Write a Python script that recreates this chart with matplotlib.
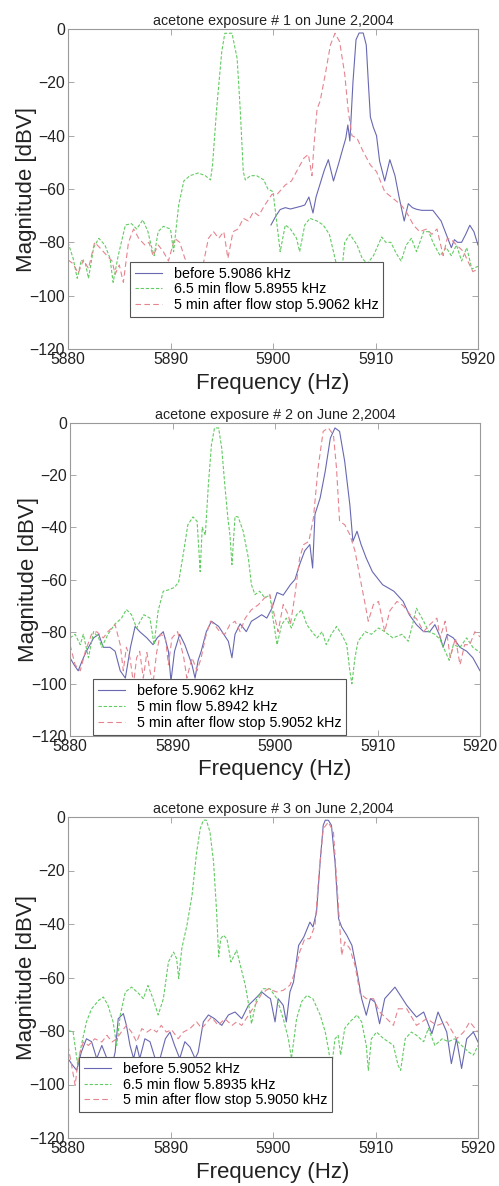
import matplotlib
matplotlib.use("Agg")
import matplotlib.pyplot as plt
from matplotlib.patches import Rectangle

plt.rcParams['font.family'] = ['Liberation Sans', 'DejaVu Sans']

# ---- exposure 1 ----
p1_before_f = [5899.8, 5900.3, 5900.7, 5901.2, 5901.7, 5902.2, 5902.7, 5903.1, 5903.5, 5903.9,
               5904.2, 5904.6, 5905.0, 5905.4, 5905.9, 5906.4, 5906.8, 5907.1, 5907.3, 5907.5,
               5907.8, 5908.1, 5908.4, 5908.8, 5909.1, 5909.3, 5909.5, 5909.8, 5910.1, 5910.4,
               5910.9, 5911.4, 5911.9, 5912.3, 5912.8, 5913.2, 5913.6, 5914.0, 5914.5, 5915.0,
               5915.6, 5916.0, 5916.4, 5916.9, 5917.4, 5917.7, 5918.0, 5918.4, 5918.8, 5919.2,
               5919.6, 5920.0]
p1_before_db = [-73.5, -70, -67.7, -67, -67.5, -67, -66.5, -66, -63, -69,
                -63, -58, -53, -49, -57, -50.5, -45, -41, -36, -42,
                -20, -4, -1.5, -1.5, -6, -20, -33, -37, -40, -49.5,
                -57, -49, -55, -63, -72, -65.5, -67, -67.6, -68, -68,
                -68, -70, -72, -77, -82, -79, -80, -80, -77, -73.6,
                -76, -81]

p1_flow_f = [5880, 5880.5, 5880.9, 5881.3, 5881.7, 5882.0, 5882.5, 5883.0, 5883.6, 5884.1,
             5884.4, 5884.9, 5885.6, 5886.2, 5886.7, 5887.3, 5887.8, 5888.1, 5888.4, 5888.8,
             5889.3, 5890.0, 5890.3, 5890.8, 5891.3, 5891.9, 5892.7, 5893.4, 5893.9, 5894.1,
             5894.5, 5895.0, 5895.3, 5896.0, 5896.5, 5896.8, 5897.1, 5897.3, 5897.8, 5898.4,
             5899.1, 5899.5, 5900.0, 5900.35, 5900.7, 5901.2, 5901.7, 5902.3, 5902.6, 5903.1,
             5903.6, 5904.3, 5904.9, 5905.5, 5905.9, 5906.2, 5906.6, 5907.0, 5907.5, 5908.2,
             5908.7, 5909.2, 5909.8, 5910.6, 5911.0, 5911.5, 5912.0, 5912.5, 5913.0, 5913.5,
             5914.0, 5914.7, 5915.2, 5915.6, 5916.3, 5916.9, 5917.4, 5917.9, 5918.4, 5918.9,
             5919.4, 5920.0]
p1_flow_db = [-80, -86, -93.5, -86.6, -88, -93.5, -82, -78.5, -81, -86,
              -95, -85, -73.5, -73, -75, -71.6, -76, -81, -85, -76,
              -74, -75, -83.5, -66, -57, -55, -54, -55, -56.6, -51,
              -30, -8.5, -1.6, -1.6, -11, -30, -53.5, -56.6, -55, -55,
              -56.6, -60, -61, -72, -83.5, -73.5, -75, -78.5, -83.5, -73.5,
              -71, -72, -73.5, -77, -83.5, -88.5, -95, -80, -77, -81,
              -86, -88, -85, -78, -80, -80, -84, -87, -81, -78.5,
              -83.5, -76, -76, -80, -85, -82, -85, -81, -87, -82,
              -90, -89]

p1_after_f = [5880, 5880.5, 5881.0, 5881.5, 5882.0, 5882.6, 5883.1, 5883.8, 5884.3, 5884.6,
              5885.0, 5885.4, 5885.9, 5886.4, 5886.9, 5887.5, 5887.9, 5888.3, 5888.8, 5889.3,
              5889.8, 5890.4, 5890.9, 5891.4, 5892.0, 5892.6, 5893.2, 5893.7, 5894.2, 5894.7,
              5895.2, 5895.6, 5896.1, 5896.6, 5897.1, 5897.6, 5898.1, 5898.6, 5899.2, 5899.9,
              5900.4, 5901.2, 5901.8, 5902.5, 5903.0, 5903.45, 5903.8, 5904.0, 5904.3, 5904.6,
              5905.1, 5905.6, 5906.05, 5906.5, 5907.0, 5907.35, 5907.7, 5908.2, 5908.8, 5909.5,
              5910.1, 5910.9, 5911.7, 5912.5, 5913.0, 5913.7, 5914.3, 5915.0, 5915.5, 5916.0,
              5916.6, 5917.0, 5917.4, 5917.9, 5918.6, 5919.0, 5919.5, 5920.0]
p1_after_db = [-86.6, -88, -91.6, -86.6, -89.8, -80, -82, -85, -87, -92,
               -88.5, -95, -80, -75, -78.5, -81, -80, -85, -81, -83.5,
               -87, -78.5, -80, -86, -90, -92, -88, -78.5, -76, -78.5,
               -76, -86, -76, -75, -71, -72, -68.5, -70, -66, -62,
               -62, -58.5, -57, -52, -48.5, -47, -55, -43.5, -30, -27,
               -17, -6, -1.6, -4.75, -17, -31, -40, -41, -46, -51,
               -53.5, -61, -63.5, -66, -68.5, -73.5, -76, -75, -77, -75,
               -85, -78.5, -79, -81, -83.5, -87, -91, -90]

# ---- exposure 2 ----
p2_before_f = [5880, 5880.4, 5880.8, 5881.2, 5881.6, 5882.3, 5882.8, 5883.25, 5883.9, 5884.4,
               5884.9, 5885.4, 5885.9, 5886.35, 5886.8, 5887.5, 5888.1, 5888.5, 5889.1, 5889.6,
               5889.85, 5890.2, 5890.7, 5891.2, 5891.9, 5892.2, 5892.5, 5892.8, 5893.3, 5893.8,
               5894.5, 5895.0, 5895.45, 5895.8, 5896.1, 5896.6, 5897.2, 5897.7, 5898.2, 5898.7,
               5899.2, 5899.7, 5900.2, 5900.8, 5901.5, 5901.95, 5902.4, 5902.9, 5903.4, 5903.67,
               5903.9, 5904.4, 5904.9, 5905.4, 5905.85, 5906.3, 5906.8, 5907.3, 5907.6, 5908.0,
               5908.4, 5908.9, 5909.5, 5910.5, 5911.6, 5912.5, 5913.1, 5913.8, 5914.5, 5915.1,
               5915.6, 5916.1, 5916.4, 5916.8, 5917.4, 5918.05, 5918.7, 5919.3, 5920.0]
p2_before_db = [-90, -92.7, -95, -91, -87.5, -82.4, -81, -86, -86, -87.5,
                -95, -97.8, -86, -78, -80, -82.4, -85, -82.4, -80, -87.5,
                -99, -87.5, -81, -85, -92.7, -97.8, -91, -87.5, -80, -76,
                -78, -81, -83.7, -90, -81, -77, -80, -76, -74.8, -73.5,
                -74.8, -71, -65, -66, -62, -60, -54.3, -49, -46.6, -55.6,
                -35, -28.8, -18.5, -5.8, -1.9, -3.2, -14.7, -31.3, -45.4, -41.5,
                -46.6, -51.8, -57, -62, -64.5, -68.4, -73.5, -77.3, -80, -80,
                -77.3, -81.8, -86, -81, -82.4, -86, -87.5, -90, -95]

p2_flow_f = [5880, 5880.5, 5881.0, 5881.3, 5881.8, 5882.3, 5882.8, 5883.1, 5883.7, 5884.4,
             5885.0, 5885.5, 5886.0, 5886.5, 5887.2, 5887.8, 5888.2, 5888.6, 5889.1, 5889.6,
             5890.2, 5890.6, 5891.1, 5891.5, 5892.0, 5892.4, 5892.7, 5892.9, 5893.2, 5893.5,
             5893.8, 5894.1, 5894.5, 5894.8, 5895.1, 5895.4, 5895.6, 5895.8, 5896.1, 5896.4,
             5896.9, 5897.4, 5897.7, 5898.05, 5898.5, 5899.0, 5899.5, 5899.8, 5900.2, 5900.65,
             5901.1, 5901.6, 5902.1, 5902.6, 5903.1, 5903.6, 5904.1, 5904.6, 5905.0, 5905.5,
             5906.0, 5906.5, 5907.0, 5907.3, 5907.5, 5907.8, 5908.1, 5908.8, 5909.4, 5910.1,
             5910.7, 5911.5, 5912.4, 5913.0, 5913.5, 5913.8, 5914.5, 5915.0, 5915.6, 5916.1,
             5916.6, 5917.0, 5917.4, 5918.05, 5918.7, 5919.3, 5920.0]
p2_flow_db = [-82.4, -81, -85, -81, -90, -80, -82.4, -86, -81, -77,
              -75, -71.5, -73.5, -78.6, -73.5, -74.8, -85, -72, -64.5, -64,
              -63, -61, -49, -39, -36, -37.7, -57, -40, -43, -23.6,
              -8.3, -1.9, -1.9, -9.6, -23.6, -36.4, -42.8, -54.3, -35.8, -36,
              -41.5, -51.8, -62, -65.8, -64.5, -67, -66, -74.8, -85, -77.3,
              -74.8, -78.6, -73.5, -71.6, -77.3, -80, -82.4, -80, -85, -81,
              -78, -81, -85, -95, -100, -90, -83.7, -80, -81, -78.6,
              -80, -82.4, -81, -83.7, -76, -71, -76, -80, -81, -83,
              -87.5, -91, -85, -86, -82.4, -86, -88]

p2_after_f = [5880, 5880.5, 5881.0, 5881.5, 5882.1, 5882.6, 5883.25, 5883.7, 5884.4, 5884.9,
              5885.2, 5885.5, 5885.85, 5886.2, 5886.5, 5886.8, 5887.15, 5887.5, 5887.8, 5888.1,
              5888.45, 5888.8, 5889.3, 5889.6, 5889.95, 5890.5, 5891.1, 5891.4, 5891.9, 5892.4,
              5892.8, 5893.2, 5893.7, 5894.1, 5894.6, 5895.1, 5895.6, 5896.1, 5896.6, 5897.1,
              5897.7, 5898.4, 5899.0, 5899.5, 5900.0, 5900.3, 5900.8, 5901.3, 5901.5, 5901.95,
              5902.4, 5902.8, 5903.3, 5903.75, 5904.2, 5904.7, 5905.2, 5905.7, 5906.0, 5906.3,
              5906.8, 5907.3, 5907.8, 5908.3, 5908.8, 5909.1, 5909.6, 5910.1, 5910.4, 5910.7,
              5911.2, 5911.9, 5912.5, 5913.2, 5913.8, 5914.5, 5915.1, 5915.8, 5916.1, 5916.6,
              5917.1, 5917.6, 5918.05, 5918.5, 5919.0, 5919.5, 5920.0]
p2_after_db = [-85, -92.7, -95, -87.5, -81, -80, -82.4, -80, -77.3, -85,
               -95, -86, -90, -100, -90, -87.5, -97.8, -88, -95, -100,
               -88, -81, -82, -92.7, -82.4, -80, -90, -97.8, -90, -95,
               -90, -82.4, -76, -77.3, -80, -81, -77.3, -76, -80, -74.8,
               -71.6, -69.6, -67, -65.8, -74.8, -80, -69.6, -73.5, -77.3, -65.8,
               -51.8, -46.6, -45.4, -36.4, -17.3, -3.2, -1.9, -4.5, -17.3, -37.7,
               -39, -42.8, -49, -59.4, -69.6, -76, -69.6, -68.4, -74, -80,
               -72, -68.4, -70, -73.5, -75, -80, -77.3, -74.8, -82.4, -76,
               -90, -82.4, -92.7, -85, -85, -80, -82]

# ---- exposure 3 ----
p3_before_f = [5880, 5880.45, 5880.85, 5881.3, 5881.8, 5882.3, 5882.8, 5883.3, 5883.8, 5884.3,
               5884.6, 5884.9, 5885.4, 5885.7, 5886.05, 5886.4, 5886.7, 5887.0, 5887.5, 5888.0,
               5888.5, 5888.8, 5889.5, 5889.95, 5890.4, 5890.9, 5891.4, 5891.9, 5892.4, 5892.7,
               5893.2, 5893.7, 5894.3, 5895.0, 5895.65, 5896.3, 5896.95, 5897.6, 5898.25, 5898.9,
               5899.5, 5899.75, 5900.2, 5900.5, 5901.0, 5901.3, 5901.65, 5902.0, 5902.5, 5903.0,
               5903.6, 5903.9, 5904.25, 5904.6, 5904.9, 5905.1, 5905.4, 5905.7, 5906.05, 5906.4,
               5906.7, 5907.2, 5907.7, 5908.2, 5908.65, 5909.1, 5909.5, 5909.95, 5910.4, 5910.9,
               5911.9, 5913.05, 5914.0, 5914.7, 5915.5, 5916.1, 5916.95, 5917.4, 5917.9, 5918.4,
               5918.9, 5919.55, 5920.0]
p3_before_db = [-90.3, -92.8, -94.7, -87.9, -82.9, -84, -90.3, -85.4, -90.3, -92.8,
                -87.9, -75.4, -73.5, -77.9, -85.4, -90.3, -85.4, -90.3, -82.9, -84,
                -90.3, -92.8, -82.9, -80.4, -85.4, -90.3, -84, -86, -90.3, -88,
                -76.6, -74, -75.4, -77.9, -74, -72.9, -75.4, -70.4, -68, -65.4,
                -67.3, -67.9, -76.6, -67.9, -70.4, -76.6, -65.4, -61.7, -48, -44.9,
                -39.3, -41.1, -35.5, -16.8, -3.1, -1.2, -1.2, -3.1, -16.8, -38,
                -41.1, -44.2, -48, -57.9, -67.9, -74.1, -67.9, -69.2, -77.3, -67.9,
                -63.6, -70.4, -74.8, -72.9, -81, -72.9, -80.4, -92.2, -82.9, -94,
                -82.9, -80.4, -84.1]

p3_flow_f = [5880, 5880.5, 5880.95, 5881.3, 5881.8, 5882.3, 5883.0, 5883.45, 5883.9, 5884.4,
             5884.75, 5885.1, 5885.6, 5886.2, 5886.9, 5887.35, 5887.8, 5888.3, 5888.8, 5889.3,
             5889.8, 5890.3, 5890.6, 5890.8, 5891.1, 5891.6, 5892.1, 5892.55, 5892.9, 5893.2,
             5893.5, 5893.85, 5894.2, 5894.5, 5894.7, 5894.9, 5895.15, 5895.5, 5895.9, 5896.45,
             5897.3, 5897.75, 5897.9, 5898.4, 5899.05, 5899.7, 5900.4, 5901.0, 5901.5, 5901.8,
             5902.3, 5902.8, 5903.3, 5903.9, 5904.6, 5905.1, 5905.4, 5905.7, 5906.05, 5906.35,
             5906.6, 5907.0, 5907.5, 5908.2, 5908.65, 5909.1, 5909.3, 5909.6, 5910.1, 5910.8,
             5911.25, 5911.75, 5912.2, 5912.45, 5912.9, 5913.5, 5914.0, 5914.7, 5915.15, 5915.8,
             5916.5, 5917.1, 5917.75, 5918.4, 5919.1, 5919.55, 5920.0]
p3_flow_db = [-79.8, -80.4, -92.8, -85.4, -76.6, -71.7, -68.5, -67.3, -70.4, -76.6,
              -85.4, -74, -65.4, -63.6, -66, -67.9, -63, -68, -74, -68,
              -54.2, -50.5, -53, -60.4, -49.2, -40.5, -29.3, -13.1, -4.4, -1.2,
              -1.2, -5.6, -16.8, -35.5, -52.3, -45.5, -44.2, -45.5, -54.2, -49.8,
              -63, -72.9, -77.3, -68, -64.2, -64.2, -68, -75.4, -82.9, -90.3,
              -75.4, -69, -66.7, -68, -74, -80.4, -86.6, -94, -82.9, -81.6,
              -89, -79, -76.6, -74, -76.6, -85.4, -94.7, -82.9, -80.4, -82.9,
              -84, -85.4, -92.8, -94.7, -82.9, -80.4, -81.6, -84, -79, -85.4,
              -82.9, -84, -82.9, -85.4, -87.9, -89, -85.4]

p3_after_f = [5880, 5880.35, 5880.7, 5881.0, 5881.5, 5882.0, 5882.6, 5883.3, 5883.8, 5884.3,
              5884.75, 5885.2, 5885.7, 5886.2, 5886.7, 5887.2, 5887.7, 5888.2, 5888.65, 5889.1,
              5889.6, 5890.1, 5890.75, 5891.25, 5891.9, 5892.55, 5893.05, 5893.5, 5894.0, 5894.65,
              5895.3, 5896.0, 5896.45, 5896.95, 5897.6, 5898.25, 5898.9, 5899.55, 5900.35, 5901.0,
              5901.65, 5902.15, 5902.6, 5903.1, 5903.6, 5904.1, 5904.5, 5904.9, 5905.4, 5905.9,
              5906.2, 5906.55, 5906.7, 5907.0, 5907.5, 5908.0, 5908.5, 5909.1, 5909.8, 5910.4,
              5911.1, 5911.75, 5912.2, 5913.05, 5914.0, 5915.0, 5916.0, 5916.95, 5917.9, 5918.6,
              5919.2, 5920.0]
p3_after_db = [-85.4, -92.8, -100.3, -90.3, -84.1, -85.4, -82.9, -84.1, -81.6, -84.1,
               -82.9, -80.4, -77.9, -80.4, -84.1, -79.1, -80.4, -79.1, -80.4, -77.9,
               -80.4, -79.5, -82.9, -80.4, -79.1, -76.6, -79.1, -77, -74.8, -77.9,
               -75.4, -77.9, -76.6, -77.9, -74.1, -70.4, -66, -64.2, -65.4, -64.8,
               -62.9, -57.9, -50.5, -45.5, -45.5, -40.5, -20.6, -4.4, -1.9, -5.6,
               -23, -43, -51.7, -46.7, -49.2, -55.5, -66, -67.9, -67.9, -72.9,
               -75.4, -77.9, -71.7, -71.7, -77.9, -75.4, -77.9, -76.6, -82.9, -80.4,
               -76.6, -80.4]

titles = ['acetone exposure # 1 on June 2,2004',
          'acetone exposure # 2 on June 2,2004',
          'acetone exposure # 3 on June 2,2004']
labels = [['before 5.9086 kHz', '6.5 min flow 5.8955 kHz', '5 min after flow stop 5.9062 kHz'],
          ['before 5.9062 kHz', '5 min flow 5.8942 kHz', '5 min after flow stop 5.9052 kHz'],
          ['before 5.9052 kHz', '6.5 min flow 5.8935 kHz', '5 min after flow stop 5.9050 kHz']]
curves = [[(p1_before_f, p1_before_db), (p1_flow_f, p1_flow_db), (p1_after_f, p1_after_db)],
          [(p2_before_f, p2_before_db), (p2_flow_f, p2_flow_db), (p2_after_f, p2_after_db)],
          [(p3_before_f, p3_before_db), (p3_flow_f, p3_flow_db), (p3_after_f, p3_after_db)]]

# axes rectangles in pixels (left, top, right, bottom) on a 499x1186 canvas
W, H = 499, 1186
boxes = [(68, 29, 478, 349), (70, 423, 480, 736), (68, 817, 478, 1138)]
legend_anchor = [(0.151, 0.10), (0.056, 0.004), (0.027, 0.08)]

colors = ['#6868b2', '#62cc62', '#e5848f']
styles = ['-', (0, (3, 1.6)), (0, (5, 3))]

fig = plt.figure(figsize=(W / 100, H / 100), dpi=100)
for i in range(3):
    l, t, r, b = boxes[i]
    ax = fig.add_axes([l / W, 1 - b / H, (r - l) / W, (b - t) / H])
    for j in range(3):
        f, db = curves[i][j]
        ax.plot(f, db, color=colors[j], linestyle=styles[j], lw=0.8, label=labels[i][j])
    ax.set_xlim(5880, 5920)
    ax.set_ylim(-120, 0)
    ax.set_xticks([5880, 5890, 5900, 5910, 5920])
    ax.set_yticks([0, -20, -40, -60, -80, -100, -120])
    ax.tick_params(direction='in', top=True, right=True, length=4, width=0.6,
                   colors='#999999', labelcolor='#222222', labelsize=11.3, pad=2)
    for s in ax.spines.values():
        s.set_color('#9a9a9a')
        s.set_linewidth(0.8)
    ax.set_title(titles[i], fontsize=10.3, color='#222222', pad=3)
    ax.set_xlabel('Frequency (Hz)', fontsize=16, color='#222222')
    ax.set_ylabel('Magnitude [dBV]', fontsize=16, color='#222222')
    ax.xaxis.set_label_coords(0.5, -0.075)
    ax.yaxis.set_label_coords(-0.075, 0.5)
    leg = ax.legend(loc='lower left', bbox_to_anchor=legend_anchor[i], fontsize=10.3,
                    handlelength=1.9, labelspacing=0.12, borderpad=0.35,
                    fancybox=False, framealpha=1, borderaxespad=0)
    leg.get_frame().set_edgecolor('#555555')
    leg.get_frame().set_linewidth(0.8)

# the second panel's x label is cut off at the bottom in the original
fig.patches.append(Rectangle((0, 1 - 800 / H), 1, 15 / H, transform=fig.transFigure,
                             facecolor='white', edgecolor='none', zorder=10))

fig.savefig('out.png', dpi=100)
